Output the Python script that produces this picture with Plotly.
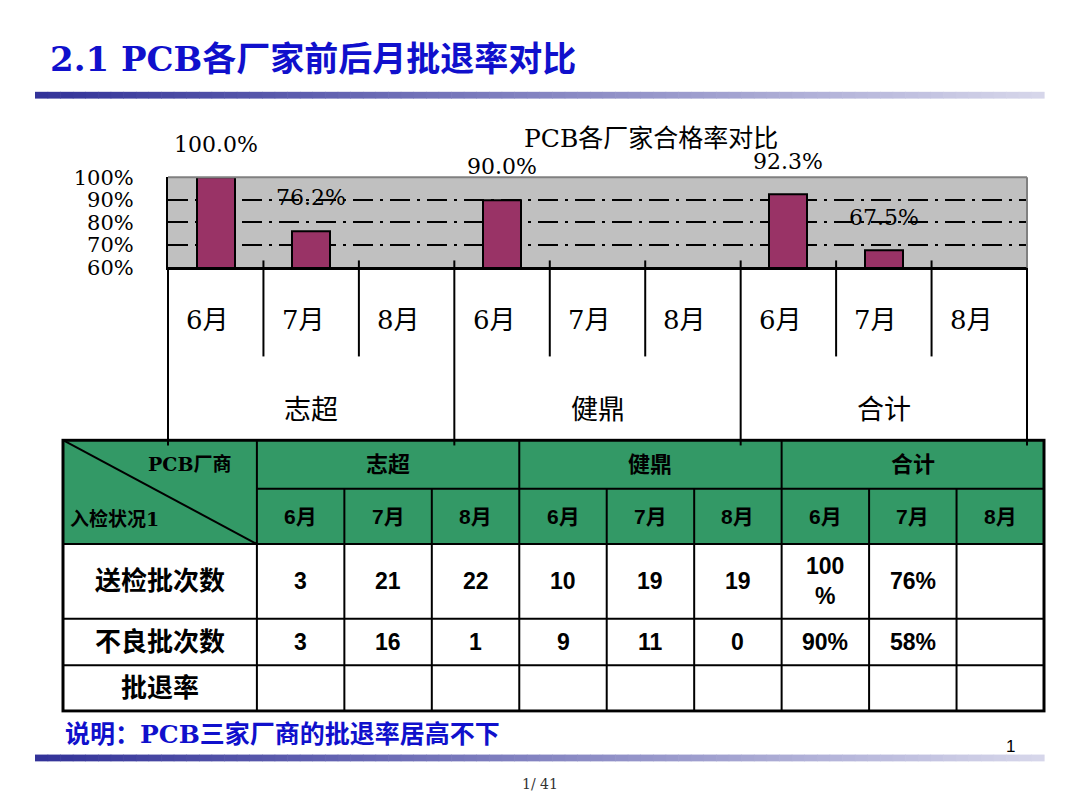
import plotly.graph_objects as go

# ---- chart data ----
groups = ["志超", "健鼎", "合计"]
months = ["6月", "7月", "8月"]
pass_rate = [1.000, 0.762, None, 0.900, None, None, 0.923, 0.675, None]
y_ticks = [0.6, 0.7, 0.8, 0.9, 1.0]

# ---- table data ----
corner_top = "PCB厂商"
corner_bottom = "入检状况1"
row_names = ["送检批次数", "不良批次数", "批退率"]
sent_batches = ["3", "21", "22", "10", "19", "19", "100<br>%", "76%", ""]
bad_batches = ["3", "16", "1", "9", "11", "0", "90%", "58%", ""]
reject_rate = ["", "", "", "", "", "", "", "", ""]

W, H = 1080, 810
OFF = 8  # the page body adds an 8px margin around the figure
SERIF = "DejaVu Serif, Noto Sans CJK SC"
SANS = "Liberation Sans, Noto Sans CJK SC"
BLUE = "#1010CC"
GREEN = "#339966"


def px_x(px):
    return (px - OFF) / W


def px_y(py):
    return 1 - (py - OFF) / H


xs = list(range(len(pass_rate)))

fig = go.Figure()
fig.add_trace(go.Bar(
    x=xs, y=pass_rate, width=0.4,
    marker=dict(color="#993366", line=dict(color="black", width=2)),
    hoverinfo="skip", showlegend=False,
))

shapes = []
annotations = []

# gray plot area of the chart
shapes.append(dict(type="rect", xref="x domain", yref="y domain", x0=0, x1=1, y0=0, y1=1,
                   fillcolor="#C0C0C0", line=dict(width=0), layer="below"))

# bar value labels
for i, v in enumerate(pass_rate):
    if v is None:
        continue
    annotations.append(dict(
        x=i, y=v, xref="x", yref="y", text=f"{v * 100:.1f}%", showarrow=False,
        yshift=33, xanchor="center", yanchor="middle",
        font=dict(family=SERIF, size=22, color="black")))

# category labels below the axis
for i in xs:
    annotations.append(dict(
        x=i, y=0, xref="x", yref="y domain", text=months[i % 3], showarrow=False,
        yshift=-53, xshift=-8, xanchor="center", yanchor="middle",
        font=dict(family=SERIF, size=26, color="black")))
for g, name in enumerate(groups):
    annotations.append(dict(
        x=g * 3 + 1, y=0, xref="x", yref="y domain", text=name, showarrow=False,
        yshift=-142, xanchor="center", yanchor="middle",
        font=dict(family=SERIF, size=27, color="black")))

# separators under the category axis
for k in range(len(xs) - 1):
    long_line = (k + 1) % 3 == 0
    shapes.append(dict(
        type="line", xref="x", yref="y domain", ysizemode="pixel", yanchor=0,
        x0=k + 0.5, x1=k + 0.5, y0=7, y1=-178 if long_line else -89,
        line=dict(color="black", width=2)))
for edge in [0, 1]:
    shapes.append(dict(
        type="line", xref="x domain", yref="y domain", ysizemode="pixel", yanchor=0,
        x0=edge, x1=edge, y0=0, y1=-178, line=dict(color="black", width=2)))

# gray border top / right of plot area
shapes.append(dict(type="line", xref="x domain", yref="y domain", x0=0, x1=1, y0=1, y1=1,
                   line=dict(color="#808080", width=2), layer="above"))
shapes.append(dict(type="line", xref="x domain", yref="y domain", x0=1, x1=1, y0=0, y1=1,
                   line=dict(color="#808080", width=2), layer="above"))

# ---- table (drawn on its own axes, 1 unit = 1 px) ----
col_w = [194] + [87.5] * 9
row_h = [50, 57, 77, 48, 47]
col_x = [0]
for w in col_w:
    col_x.append(col_x[-1] + w)
row_y = [0]
for h in row_h:
    row_y.append(row_y[-1] + h)
tw, th = col_x[-1], row_y[-1]

tline = dict(color="black", width=2)
shapes.append(dict(type="rect", xref="x2", yref="y2", x0=0, x1=tw, y0=0, y1=row_y[2],
                   fillcolor=GREEN, line=dict(width=0), layer="below"))
shapes.append(dict(type="rect", xref="x2", yref="y2", x0=0, x1=tw, y0=0, y1=th,
                   line=dict(color="black", width=3)))
shapes.append(dict(type="line", xref="x2", yref="y2", x0=col_x[1], x1=tw, y0=row_y[1], y1=row_y[1], line=tline))
for r in range(2, len(row_y) - 1):
    shapes.append(dict(type="line", xref="x2", yref="y2", x0=0, x1=tw, y0=row_y[r], y1=row_y[r], line=tline))
for c in range(1, len(col_x) - 1):
    top = 0 if (c - 1) % 3 == 0 else row_y[1]
    shapes.append(dict(type="line", xref="x2", yref="y2", x0=col_x[c], x1=col_x[c], y0=top, y1=th, line=tline))
shapes.append(dict(type="line", xref="x2", yref="y2", x0=0, x1=col_x[1], y0=0, y1=row_y[2], line=tline))

annotations.append(dict(x=127, y=25, xref="x2", yref="y2", text=f"<b>{corner_top}</b>", showarrow=False,
                        font=dict(family=SERIF, size=19, color="black")))
annotations.append(dict(x=52, y=81, xref="x2", yref="y2", text=f"<b>{corner_bottom}</b>", showarrow=False,
                        font=dict(family=SERIF, size=19, color="black")))


def cell_center(r, c):
    return (col_x[c] + col_x[c + 1]) / 2, (row_y[r] + row_y[r + 1]) / 2


for g, name in enumerate(groups):
    cx = (col_x[1 + g * 3] + col_x[4 + g * 3]) / 2
    annotations.append(dict(x=cx, y=row_h[0] / 2, xref="x2", yref="y2", text=f"<b>{name}</b>",
                            showarrow=False, font=dict(family=SANS, size=22, color="black")))
for j in range(9):
    cx, cy = cell_center(1, j + 1)
    annotations.append(dict(x=cx, y=cy, xref="x2", yref="y2", text=f"<b>{months[j % 3]}</b>",
                            showarrow=False, font=dict(family=SANS, size=21, color="black")))

for r, (name, vals) in enumerate(zip(row_names, [sent_batches, bad_batches, reject_rate])):
    cx, cy = cell_center(r + 2, 0)
    annotations.append(dict(x=cx, y=cy, xref="x2", yref="y2", text=f"<b>{name}</b>",
                            showarrow=False, font=dict(family=SANS, size=26, color="black")))
    for j, v in enumerate(vals):
        if not v:
            continue
        cx, cy = cell_center(r + 2, j + 1)
        annotations.append(dict(x=cx, y=cy, xref="x2", yref="y2", text=f"<b>{v}</b>",
                                showarrow=False, font=dict(family=SANS, size=23, color="black")))

# ---- slide decorations ----
def gradient_bar(y0, y1, x0=35, x1=1044, n=80):
    c0, c1 = (51, 51, 153), (214, 214, 234)
    step = (x1 - x0) / n
    out = []
    for i in range(n):
        t = i / (n - 1)
        col = tuple(round(a + (b - a) * t) for a, b in zip(c0, c1))
        out.append(dict(type="rect", xref="paper", yref="paper",
                        x0=px_x(x0 + i * step), x1=px_x(x0 + (i + 1) * step + 0.6),
                        y0=px_y(y1), y1=px_y(y0),
                        fillcolor="rgb(%d,%d,%d)" % col, line=dict(width=0)))
    return out


shapes += gradient_bar(82, 89)
shapes += gradient_bar(765, 772)


def paper_text(px, py, text, font, xanchor="center"):
    return dict(x=px_x(px), y=px_y(py), xref="paper", yref="paper", xanchor=xanchor,
                yanchor="middle", text=text, showarrow=False, font=font)


annotations.append(paper_text(48, 48, "<b>2.1 PCB各厂家前后月批退率对比</b>",
                              dict(family=SERIF, size=34, color=BLUE), "left"))
annotations.append(paper_text(651, 130, "PCB各厂家合格率对比",
                              dict(family=SERIF, size=25, color="black")))
annotations.append(paper_text(63, 744, "<b>说明：PCB三家厂商的批退率居高不下</b>",
                              dict(family=SERIF, size=25, color=BLUE), "left"))
annotations.append(paper_text(1010, 757, "1", dict(family=SANS, size=17, color="black")))
annotations.append(paper_text(540, 795, "1/ 41", dict(family=SERIF, size=14, color="#333333")))

fig.update_layout(
    width=W, height=H,
    margin=dict(l=0, r=0, t=0, b=0),
    paper_bgcolor="white",
    plot_bgcolor="white",
    showlegend=False,
    bargap=0,
    xaxis=dict(domain=[px_x(168), px_x(1027)], range=[-0.5, 8.5], showticklabels=False,
               showgrid=False, zeroline=False, showline=True, linecolor="black", linewidth=3,
               fixedrange=True, anchor="y"),
    yaxis=dict(domain=[px_y(263), px_y(170)], range=[0.6, 1.0], tickvals=y_ticks, tickformat=".0%",
               showgrid=True, gridcolor="black", gridwidth=2, griddash="20px,7px,3px,7px",
               zeroline=False, showline=True, linecolor="black", linewidth=2, ticks="",
               ticklabelstandoff=28, tickfont=dict(family=SERIF, size=21, color="black"),
               fixedrange=True, anchor="x"),
    xaxis2=dict(domain=[px_x(61), px_x(1046)], range=[-2, tw + 2], visible=False,
                fixedrange=True, anchor="y2"),
    yaxis2=dict(domain=[px_y(722), px_y(439)], range=[th + 2, -2], visible=False,
                fixedrange=True, anchor="x2"),
    shapes=shapes,
    annotations=annotations,
)

fig.write_html("out.html")
